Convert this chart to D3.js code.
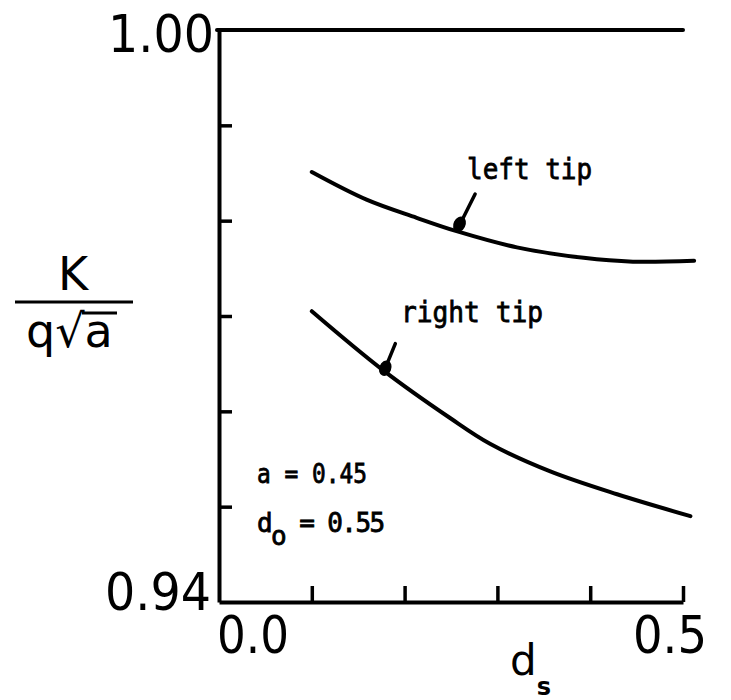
<!DOCTYPE html>
<html>
<head>
<meta charset="utf-8">
<script src="https://cdn.jsdelivr.net/npm/d3@7"></script>
<style>
  body { margin: 0; background: #fff; }
  svg { display: block; }
  .big { font-family: "DejaVu Sans", sans-serif; fill: #000; }
  .mono { font-family: "DejaVu Sans Mono", monospace; fill: #000;
          stroke: #000; stroke-width: 0.8px; }
</style>
</head>
<body>
<script>
// values
var dsLeft = [0.100, 0.159, 0.213, 0.256, 0.321, 0.393, 0.446, 0.512];
var kLeft = [0.9851, 0.9822, 0.9803, 0.9789, 0.9772, 0.9761, 0.9757, 0.9758];
var dsRight = [0.100, 0.177, 0.249, 0.292, 0.357, 0.429, 0.508];
var kRight = [0.9705, 0.9643, 0.9593, 0.9566, 0.9537, 0.9513, 0.9490];
var yTicks = [0.99, 0.98, 0.97, 0.96, 0.95];
var xTicks = [0.1, 0.2, 0.3, 0.4, 0.5];
var yEnds = ['1.00', '0.94'];
var xEnds = ['0.0', '0.5'];

var W = 731, H = 700;
var m = { top: 30, right: 48, bottom: 98, left: 219 };

var svg = d3.select('body').append('svg')
    .attr('width', W).attr('height', H);

var x = d3.scaleLinear().domain([0, 0.5]).range([m.left, W - m.right]);
var y = d3.scaleLinear().domain([0.94, 1.00]).range([H - m.bottom, m.top]);

//axes, ticks pointing inward
var yAxis = d3.axisLeft(y).tickValues(yTicks).tickSizeInner(-13)
    .tickSizeOuter(0).tickFormat('');
var xAxis = d3.axisBottom(x).tickValues(xTicks).tickSizeInner(-16)
    .tickSizeOuter(0).tickFormat('');

svg.append('g').attr('transform', 'translate(' + m.left + ',0)')
    .call(yAxis);
svg.append('g').attr('transform', 'translate(0,' + (H - m.bottom) + ')')
    .call(xAxis);
svg.selectAll('.domain').attr('stroke', '#000').attr('stroke-width', 4);
svg.selectAll('.tick line').attr('stroke', '#000').attr('stroke-width', 3.5);

//top frame line
svg.append('line')
    .attr('x1', x(0) - 2).attr('x2', x(0.5))
    .attr('y1', y(1)).attr('y2', y(1))
    .attr('stroke', '#000').attr('stroke-width', 4)
    .attr('stroke-linecap', 'round');

//curves
var line = d3.line()
    .x(function (d) { return x(d[0]); })
    .y(function (d) { return y(d[1]); })
    .curve(d3.curveCatmullRom.alpha(0.5));

[[dsLeft, kLeft], [dsRight, kRight]].forEach(function (s) {
    svg.append('path')
        .datum(d3.zip(s[0], s[1]))
        .attr('d', line)
        .attr('fill', 'none')
        .attr('stroke', '#000')
        .attr('stroke-width', 4)
        .attr('stroke-linecap', 'round');
});

//end labels
svg.append('text').attr('class', 'big').text(yEnds[0])
    .attr('x', m.left - 5).attr('y', y(1) + 22)
    .attr('text-anchor', 'end').attr('font-size', 52)
    .attr('textLength', 106).attr('lengthAdjust', 'spacingAndGlyphs');
svg.append('text').attr('class', 'big').text(yEnds[1])
    .attr('x', m.left - 8).attr('y', y(0.94) + 8)
    .attr('text-anchor', 'end').attr('font-size', 52)
    .attr('textLength', 106).attr('lengthAdjust', 'spacingAndGlyphs');
svg.append('text').attr('class', 'big').text(xEnds[0])
    .attr('x', x(0) - 2).attr('y', y(0.94) + 51)
    .attr('font-size', 52)
    .attr('textLength', 72).attr('lengthAdjust', 'spacingAndGlyphs');
svg.append('text').attr('class', 'big').text(xEnds[1])
    .attr('x', x(0.5) + 24).attr('y', y(0.94) + 51)
    .attr('text-anchor', 'end').attr('font-size', 52)
    .attr('textLength', 74).attr('lengthAdjust', 'spacingAndGlyphs');

//x title d_s
var xt = svg.append('text').attr('class', 'big')
    .attr('x', 510).attr('y', 675).attr('font-size', 42);
xt.append('tspan').text('d');
xt.append('tspan').text('s').attr('font-size', 24).attr('font-weight', 'bold')
    .attr('dy', 20);

//y title K / q sqrt a
svg.append('text').attr('class', 'big').text('K')
    .attr('x', 73).attr('y', 290).attr('text-anchor', 'middle')
    .attr('font-size', 46);
svg.append('line').attr('x1', 15).attr('x2', 133).attr('y1', 302).attr('y2', 302)
    .attr('stroke', '#000').attr('stroke-width', 3);
var yt = svg.append('text').attr('class', 'big')
    .attr('x', 26).attr('y', 347).attr('font-size', 46);
yt.append('tspan').text('q');
yt.append('tspan').text('\u221A');
yt.append('tspan').text('a');
svg.append('line').attr('x1', 82).attr('x2', 117).attr('y1', 313).attr('y2', 313)
    .attr('stroke', '#000').attr('stroke-width', 3);

//annotations
function arrow(tail, head) {
    svg.append('line')
        .attr('x1', x(tail[0])).attr('y1', y(tail[1]))
        .attr('x2', x(head[0])).attr('y2', y(head[1]))
        .attr('stroke', '#000').attr('stroke-width', 3.5)
        .attr('stroke-linecap', 'round');
    var ang = Math.atan2(y(head[1]) - y(tail[1]), x(head[0]) - x(tail[0])) * 180 / Math.PI;
    svg.append('ellipse')
        .attr('cx', 0).attr('cy', 0).attr('rx', 8).attr('ry', 6)
        .attr('transform', 'translate(' + (x(head[0]) + 2) + ',' + (y(head[1]) - 5) +
            ') rotate(' + ang + ')');
}
arrow([0.276, 0.9828], [0.257, 0.9791]);
arrow([0.190, 0.9671], [0.177, 0.9640]);

svg.append('text').attr('class', 'mono').text('left tip')
    .attr('x', 467).attr('y', 179).attr('font-size', 28)
    .attr('textLength', 125).attr('lengthAdjust', 'spacingAndGlyphs');
svg.append('text').attr('class', 'mono').text('right tip')
    .attr('x', 401).attr('y', 322).attr('font-size', 28)
    .attr('textLength', 142).attr('lengthAdjust', 'spacingAndGlyphs');

svg.append('text').attr('class', 'mono').text('a = 0.45')
    .attr('x', 257).attr('y', 483).attr('font-size', 26)
    .attr('textLength', 110).attr('lengthAdjust', 'spacingAndGlyphs');
var d0 = svg.append('text').attr('class', 'mono')
    .attr('x', 257).attr('y', 532).attr('font-size', 26)
    .attr('letter-spacing', -1.6);
d0.append('tspan').text('d');
d0.append('tspan').text('o').attr('dy', 13);
d0.append('tspan').text(' = 0.55').attr('dy', -13);
</script>
</body>
</html>
